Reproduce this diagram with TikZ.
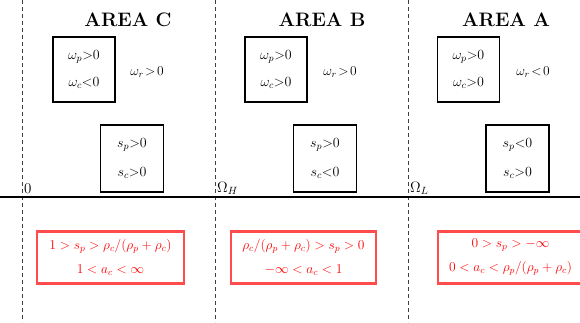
\RequirePackage{fix-cm}
\documentclass[tikz,border=0pt]{standalone}
\usepackage{amsmath}
\begin{document}
\begin{tikzpicture}[x=1pt,y=-1pt,
  divider/.style={dash pattern=on 4pt off 3pt, line width=1pt, black!75},
  axisline/.style={line width=1.2pt},
  area/.style={font=\bfseries\fontsize{19.5}{21}\selectfont},
  wbox/.style={draw, line width=1.8pt, minimum width=62pt, minimum height=65pt, align=center, font=\fontsize{14}{27}\selectfont, inner sep=0pt},
  sbox/.style={draw, line width=1.8pt, minimum width=63pt, minimum height=67pt, align=center, font=\fontsize{14}{29}\selectfont, inner sep=0pt},
  rbox/.style={draw=red!70, line width=2.2pt, text=red, minimum height=52pt, align=center, font=\fontsize{13.5}{24}\selectfont, inner sep=0pt},
  lab/.style={font=\fontsize{13.5}{15}\selectfont, inner sep=0pt},
  axlab/.style={font=\fontsize{15}{17}\selectfont, inner sep=0pt, anchor=south west}
]
\useasboundingbox (0,0) rectangle (580,322);
% dividers
\coordinate (d1t) at (22,0);   \coordinate (d1b) at (22,322);
\coordinate (d2t) at (215,0);  \coordinate (d2b) at (215,322);
\coordinate (d3t) at (408,0);  \coordinate (d3b) at (408,322);
\draw[divider] (d1t) -- (d1b);
\draw[divider] (d2t) -- (d2b);
\draw[divider] (d3t) -- (d3b);
% axis
\coordinate (axl) at (0,197); \coordinate (axr) at (580,197);
\draw[axisline] (axl) -- (axr);
% titles
\node[area] (tc) at (128,20) {AREA C};
\node[area] (tb) at (322,20) {AREA B};
\node[area] (ta) at (506,20) {AREA A};
% omega boxes
\node[wbox] (wc) at (84,69.5) {$\omega_p{>}0$\\$\omega_c{<}0$};
\node[wbox] (wb) at (276,69.5) {$\omega_p{>}0$\\$\omega_c{>}0$};
\node[wbox] (wa) at (468.5,69.5) {$\omega_p{>}0$\\$\omega_c{>}0$};
\node[lab] (rc) at (147,72) {$\omega_r\!>\!0$};
\node[lab] (rb) at (340,72) {$\omega_r\!>\!0$};
\node[lab] (ra) at (533,72) {$\omega_r\!<\!0$};
% s boxes
\node[sbox] (sc) at (132,158.5) {$s_p{>}0$\\$s_c{>}0$};
\node[sbox] (sb) at (325,158.5) {$s_p{>}0$\\$s_c{<}0$};
\node[sbox] (sa) at (517.5,158.5) {$s_p{<}0$\\$s_c{>}0$};
% axis labels
\node[axlab] (l0) at (24,194) {$0$};
\node[axlab] (lh) at (217,195) {$\Omega_H$};
\node[axlab] (ll) at (410,195) {$\Omega_L$};
% red boxes
\node[rbox, minimum width=147pt] (qc) at (110.5,257.5) {$1>s_p>\rho_c/(\rho_p+\rho_c)$\\$1<a_c<\infty$};
\node[rbox, minimum width=145pt] (qb) at (303.5,257.5) {$\rho_c/(\rho_p+\rho_c)>s_p>0$\\$-\infty<a_c<1$};
\node[rbox, minimum width=145pt] (qa) at (510.5,257.5) {$0>s_p>-\infty$\\$0<a_c<\rho_p/(\rho_p+\rho_c)$};
\end{tikzpicture}
\end{document}
